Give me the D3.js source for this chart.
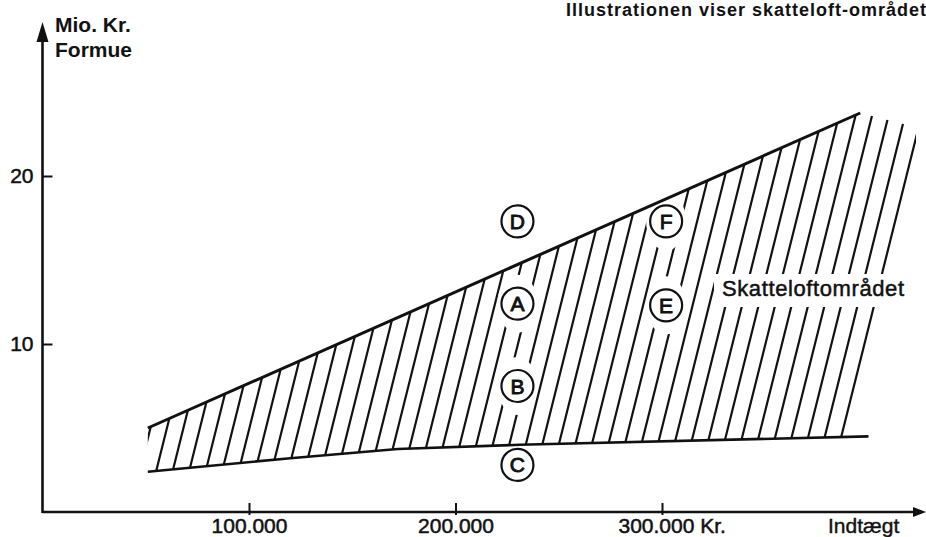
<!DOCTYPE html>
<html>
<head>
<meta charset="utf-8">
<script src="https://cdn.jsdelivr.net/npm/d3@7"></script>
<style>
  body { margin: 0; background: #fff; }
  text { font-family: "Liberation Sans", Arial, sans-serif; fill: #111; }
</style>
</head>
<body>
<div id="main"></div>
<script>
// income in kr, wealth (formue) in mio. kr
var incomeTicks = [100000, 200000, 300000];
var wealthTicks = [10, 20];

var upperIncome = [51000, 396000];
var upperWealth = [5.0, 23.75];

var lowerIncome = [51000, 120000, 172000, 231000, 400000];
var lowerWealth = [2.4, 3.2, 3.75, 4.0, 4.5];

// the ceiling area keeps going past the end of the upper line
var ceilIncome = [423000, 423000, 388000];
var ceilWealth = [22.9, 21.6, 4.46];

var labelNames = ["A", "B", "C", "D", "E", "F"];
var labelIncome = [230000, 230000, 230000, 230000, 302000, 302000];
var labelWealth = [12.4, 7.5, 2.8, 17.3, 12.3, 17.3];

var width = 926, height = 537;
var svg = d3.select("#main").append("svg")
  .attr("width", width).attr("height", height);

var x = d3.scaleLinear().domain([0, 400000]).range([42.5, 868.5]);
var y = d3.scaleLinear().domain([0, 20]).range([512, 176]);

function pts(xs, ys) {
  return xs.map(function (d, i) { return [x(d), y(ys[i])]; });
}

var upper = pts(upperIncome, upperWealth);
var lower = pts(lowerIncome, lowerWealth);
var ceil = pts(ceilIncome, ceilWealth);

// hatched region: upper line, ceiling extension, lower line back
var region = upper.concat(ceil).concat(lower.slice(0, lower.length - 1).reverse());

svg.append("clipPath").attr("id", "hatchClip")
  .append("path").attr("d", "M" + region.join("L") + "Z");

var hatch = svg.append("g").attr("clip-path", "url(#hatchClip)");
var yTop = y(25), yBot = y(0);
d3.range(x(45000), x(432000), 16.5).forEach(function (xt) {
  hatch.append("line")
    .attr("x1", xt).attr("y1", yTop)
    .attr("x2", xt - 0.25 * (yBot - yTop)).attr("y2", yBot)
    .attr("stroke", "#111").attr("stroke-width", 2.2);
});

// gaps in the hatching round the letters and the text
labelNames.forEach(function (n, i) {
  if (n == "C" || n == "D") return;
  svg.append("ellipse")
    .attr("cx", x(labelIncome[i])).attr("cy", y(labelWealth[i]))
    .attr("rx", 20).attr("ry", 29).attr("fill", "#fff");
});
svg.append("rect")
  .attr("x", 714).attr("y", 274).attr("width", 200).attr("height", 33)
  .attr("fill", "#fff");

var line = d3.line();
svg.append("path").attr("d", line(upper))
  .attr("fill", "none").attr("stroke", "#111").attr("stroke-width", 3);
svg.append("path").attr("d", line(lower))
  .attr("fill", "none").attr("stroke", "#111").attr("stroke-width", 2.6);

// axes
var fmt = function (d) {
  var s = d3.format(",")(d).replace(/,/g, ".");
  return d == 300000 ? s + " Kr." : s;
};
var xAxis = svg.append("g").attr("transform", "translate(0," + y(0) + ")")
  .call(d3.axisBottom(x).tickValues(incomeTicks).tickFormat(fmt)
    .tickSizeInner(-9).tickSizeOuter(0).tickPadding(6));
xAxis.select(".domain").remove();
xAxis.selectAll(".tick line").attr("stroke", "#111").attr("stroke-width", 2)
  .attr("y2", -9).attr("y1", 3);
xAxis.selectAll(".tick text").attr("font-size", 21).attr("fill", "#111")
  .attr("stroke", "#111").attr("stroke-width", 0.5)
  .style("font-family", "'Liberation Sans', Arial, sans-serif");
xAxis.selectAll(".tick text").filter(function (d) { return d == 300000; })
  .attr("text-anchor", "start").attr("x", -44);

var yAxis = svg.append("g").attr("transform", "translate(" + x(0) + ",0)")
  .call(d3.axisLeft(y).tickValues(wealthTicks)
    .tickSizeInner(-10).tickSizeOuter(0).tickPadding(9));
yAxis.select(".domain").remove();
yAxis.selectAll(".tick line").attr("stroke", "#111").attr("stroke-width", 2);
yAxis.selectAll(".tick text").attr("font-size", 21).attr("fill", "#111")
  .attr("stroke", "#111").attr("stroke-width", 0.5)
  .style("font-family", "'Liberation Sans', Arial, sans-serif");

svg.append("line")
  .attr("x1", x(0)).attr("y1", y(0)).attr("x2", 916).attr("y2", y(0))
  .attr("stroke", "#111").attr("stroke-width", 2.6);
svg.append("path")
  .attr("d", "M926," + y(0) + "L913," + (y(0) - 5) + "L913," + (y(0) + 5) + "Z")
  .attr("fill", "#111");
svg.append("line")
  .attr("x1", x(0)).attr("y1", y(0) + 1).attr("x2", x(0)).attr("y2", 36)
  .attr("stroke", "#111").attr("stroke-width", 2.6);
svg.append("path")
  .attr("d", "M" + x(0) + ",22L" + (x(0) - 6) + ",42L" + (x(0) + 6) + ",42Z")
  .attr("fill", "#111");

// circled letters
labelNames.forEach(function (n, i) {
  var cx = x(labelIncome[i]), cy = y(labelWealth[i]);
  svg.append("circle").attr("cx", cx).attr("cy", cy).attr("r", 16)
    .attr("fill", "#fff").attr("stroke", "#111").attr("stroke-width", 2.2);
  svg.append("text").attr("x", cx).attr("y", cy + 7.5)
    .attr("text-anchor", "middle").attr("font-size", 21)
    .attr("stroke", "#111").attr("stroke-width", 0.9)
    .text(n);
});

// texts
svg.append("text").attr("x", 55).attr("y", 32)
  .attr("font-size", 21).attr("font-weight", "bold").text("Mio. Kr.");
svg.append("text").attr("x", 55).attr("y", 57)
  .attr("font-size", 21).attr("font-weight", "bold").text("Formue");
svg.append("text").attr("x", 566).attr("y", 16)
  .attr("font-size", 18).attr("font-weight", "bold").attr("letter-spacing", 1)
  .text("Illustrationen viser skatteloft-området");
svg.append("text").attr("x", 722).attr("y", 296)
  .attr("font-size", 22).attr("letter-spacing", 0.6)
  .attr("stroke", "#111").attr("stroke-width", 0.5)
  .text("Skatteloftområdet");
svg.append("text").attr("x", 828).attr("y", 533)
  .attr("font-size", 21).attr("stroke", "#111").attr("stroke-width", 0.4)
  .text("Indtægt");
</script>
</body>
</html>
